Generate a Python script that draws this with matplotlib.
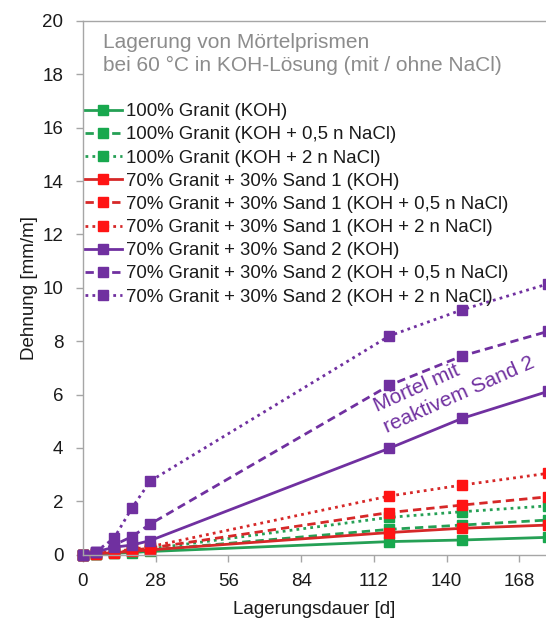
import matplotlib
matplotlib.use("Agg")
import matplotlib.pyplot as plt

plt.rcParams['font.family'] = ['Liberation Sans', 'DejaVu Sans']

days = [0, 5, 12, 19, 26, 118, 146, 179]

g_koh = [0, 0.02, 0.05, 0.08, 0.12, 0.49, 0.55, 0.65]
g_05 = [0, 0.03, 0.07, 0.12, 0.17, 0.95, 1.11, 1.30]
g_2 = [0, 0.03, 0.09, 0.15, 0.22, 1.40, 1.61, 1.83]
r_koh = [0, 0.03, 0.08, 0.12, 0.18, 0.83, 0.99, 1.11]
r_05 = [0, 0.04, 0.10, 0.16, 0.25, 1.58, 1.86, 2.17]
r_2 = [0, 0.05, 0.12, 0.20, 0.30, 2.20, 2.61, 3.05]
p_koh = [0, 0.10, 0.28, 0.36, 0.53, 3.99, 5.11, 6.12]
p_05 = [0, 0.11, 0.36, 0.68, 1.15, 6.35, 7.45, 8.37]
p_2 = [0, 0.11, 0.61, 1.76, 2.76, 8.20, 9.18, 10.15]

labels = [
    "100% Granit (KOH)",
    "100% Granit (KOH + 0,5 n NaCl)",
    "100% Granit (KOH + 2 n NaCl)",
    "70% Granit + 30% Sand 1 (KOH)",
    "70% Granit + 30% Sand 1 (KOH + 0,5 n NaCl)",
    "70% Granit + 30% Sand 1 (KOH + 2 n NaCl)",
    "70% Granit + 30% Sand 2 (KOH)",
    "70% Granit + 30% Sand 2 (KOH + 0,5 n NaCl)",
    "70% Granit + 30% Sand 2 (KOH + 2 n NaCl)",
]
series = [g_koh, g_05, g_2, r_koh, r_05, r_2, p_koh, p_05, p_2]

annot_lines = ["Mörtel mit", "reaktivem Sand 2"]
annot_x = [113.1, 116.9]
annot_y = [5.36, 4.55]

green_line, green_mk = '#25A055', '#18A84E'
red_line, red_mk = '#D62828', '#FF1414'
purple_line, purple_mk = '#7030A0', '#7030A0'
colors = [(green_line, green_mk)] * 3 + [(red_line, red_mk)] * 3 + [(purple_line, purple_mk)] * 3
styles = ['-', (0, (3, 1.8)), (0, (1, 1.5))] * 3

fig = plt.figure(figsize=(5.46, 6.21), dpi=100)
ax = fig.add_axes([0.1515, 0.1068, 0.8485, 0.8594])

for vals, lab, (lc, mc), ls in zip(series, labels, colors, styles):
    ax.plot(days, vals, linestyle=ls, color=lc, lw=2.0, marker='s', markersize=7,
            markerfacecolor=mc, markeredgecolor=mc, label=lab, clip_on=False)

ax.set_xlim(0, 178.2)
ax.set_ylim(0, 20)
ax.set_xticks([0, 28, 56, 84, 112, 140, 168])
ax.set_yticks(range(0, 21, 2))

for s in ['left', 'bottom', 'top']:
    ax.spines[s].set_color('#a6a6a6')
    ax.spines[s].set_linewidth(1.0)
ax.spines['right'].set_visible(False)
ax.tick_params(axis='both', direction='out', length=5, width=1.0, color='#a6a6a6',
               labelsize=13.5, labelcolor='#1a1a1a')
ax.tick_params(axis='y', pad=9)
ax.tick_params(axis='x', pad=8)

ax.set_xlabel("Lagerungsdauer [d]", fontsize=13.5, color='#1a1a1a', labelpad=8)
ax.set_ylabel("Dehnung [mm/m]", fontsize=13.5, color='#1a1a1a', labelpad=3)

ax.text(0.044, 0.977, "Lagerung von Mörtelprismen\nbei 60 °C in KOH-Lösung (mit / ohne NaCl)",
        transform=ax.transAxes, ha='left', va='top', fontsize=15, color='#8c8c8c',
        linespacing=1.25)

leg = ax.legend(loc='upper left', bbox_to_anchor=(0.004, 0.846), frameon=False,
                fontsize=13.4, handlelength=2.0, handletextpad=0.2, labelspacing=0.33,
                borderpad=0, borderaxespad=0)
for t in leg.get_texts():
    t.set_color('#1a1a1a')

for txt, tx, ty in zip(annot_lines, annot_x, annot_y):
    ax.text(tx, ty, txt, fontsize=15, color='#7030A0', rotation=24,
            rotation_mode='anchor', ha='left', va='baseline')

fig.savefig("out.png", dpi=100)
